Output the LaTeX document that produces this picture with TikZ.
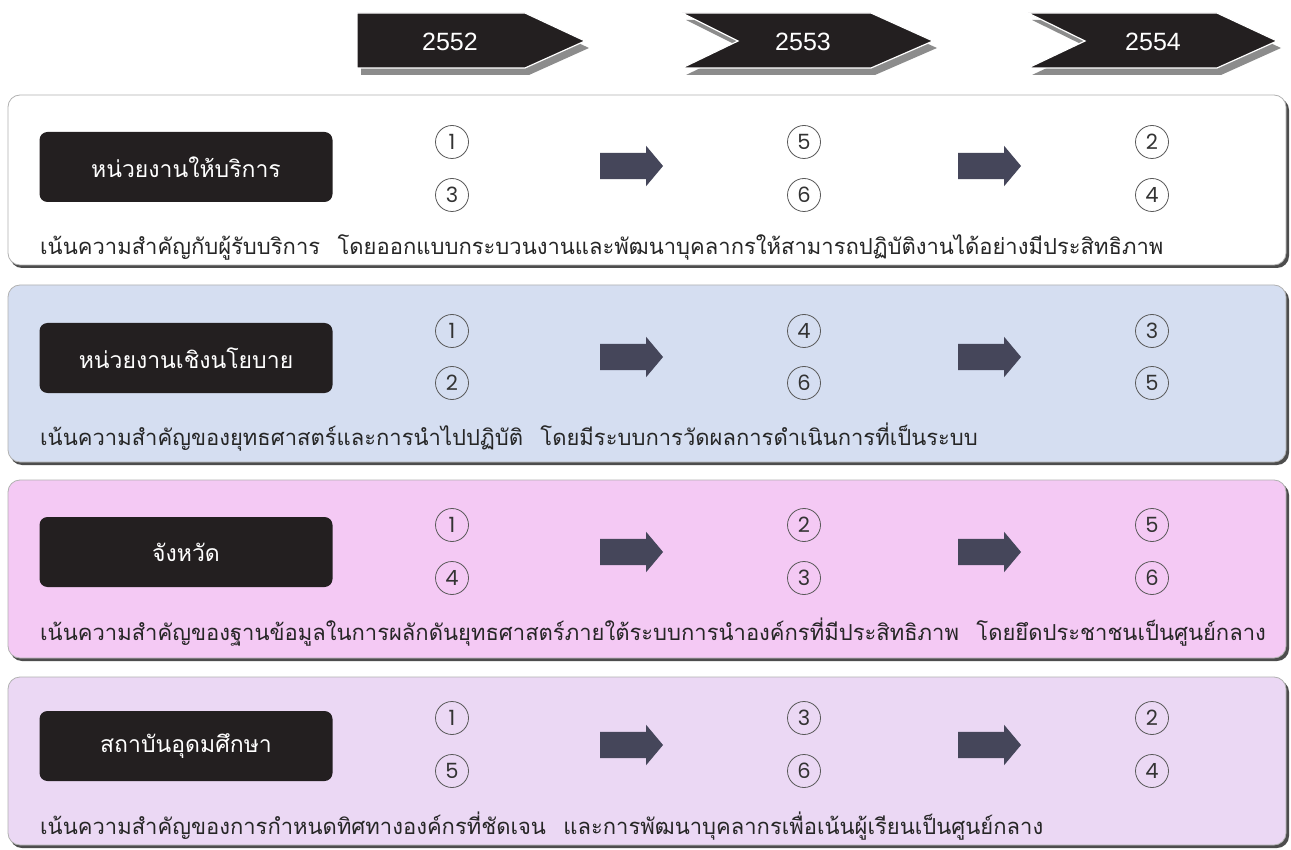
\documentclass[tikz,border=0pt]{standalone}
\usepackage{fontspec}
\newfontfamily\thaifont[Script=Thai]{Loma}
\newfontfamily\numfont{Poppins}
\newfontfamily\yearfont{Liberation Sans}
\usetikzlibrary{shapes.arrows}
\definecolor{boxblack}{HTML}{231F20}
\definecolor{arrowgrey}{HTML}{45465A}
\definecolor{rowblue}{HTML}{D5DEF1}
\definecolor{rowpink}{HTML}{F4C9F4}
\definecolor{rowlilac}{HTML}{EBD8F4}
\definecolor{edgegrey}{HTML}{4D4D4D}

\begin{document}
\begin{tikzpicture}[x=1pt,y=-1pt,
	unitbox/.style={fill=boxblack, rounded corners=8pt, minimum width=293pt, minimum height=70pt, inner sep=0pt, text=white, font=\thaifont\fontsize{23}{27}\selectfont},
	stepnum/.style={circle, draw=black!65, line width=0.8pt, minimum size=33pt, inner sep=0pt, text=black!80, font=\numfont\fontsize{21}{22}\selectfont},
	movearrow/.style={single arrow, fill=arrowgrey, minimum height=63pt, inner xsep=0pt, inner ysep=13pt, single arrow head extend=7pt, single arrow tip angle=100},
	focus/.style={anchor=west, inner sep=0pt, text=black!85, font=\thaifont\fontsize{22}{26}\selectfont},
	year/.style={text=white, font=\yearfont\fontsize{25}{28}\selectfont},
	panel/.style={rounded corners=12pt, draw=black!30, line width=0.8pt},
	panelshade/.style={rounded corners=12pt, fill=edgegrey}]
	\useasboundingbox[fill=white] (0,0) rectangle (1291,850);
	
	% years
	\fill[black!45, shift={(4,7)}] (357,13) -- (525,13) -- (585,41) -- (525,68) -- (357,68) -- cycle;
	\filldraw[boxblack, draw=white, line width=1.2pt] (357,13) -- (525,13) -- (585,41) -- (525,68) -- (357,68) -- cycle;
	\node[year] (y2552) at (450,42) {2552};
	
	\fill[black!45, shift={(4,7)}] (682,13) -- (871,13) -- (933,41) -- (871,68) -- (682,68) -- (738,41) -- cycle;
	\filldraw[boxblack, draw=white, line width=1.2pt] (682,13) -- (871,13) -- (933,41) -- (871,68) -- (682,68) -- (738,41) -- cycle;
	\node[year] (y2553) at (803,42) {2553};
	
	\fill[black!45, shift={(4,7)}] (1028,13) -- (1217,13) -- (1277,41) -- (1217,68) -- (1028,68) -- (1085,41) -- cycle;
	\filldraw[boxblack, draw=white, line width=1.2pt] (1028,13) -- (1217,13) -- (1277,41) -- (1217,68) -- (1028,68) -- (1085,41) -- cycle;
	\node[year] (y2554) at (1153,42) {2554};
	
	% panels
	\fill[panelshade] (10,98) rectangle (1289,268);
	\filldraw[panel, fill=white] (8,95) rectangle (1286,265);
	\fill[panelshade] (10,288) rectangle (1289,465);
	\filldraw[panel, fill=rowblue] (8,285) rectangle (1286,462);
	\fill[panelshade] (10,483) rectangle (1289,661);
	\filldraw[panel, fill=rowpink] (8,480) rectangle (1286,658);
	\fill[panelshade] (10,680) rectangle (1289,848);
	\filldraw[panel, fill=rowlilac] (8,677) rectangle (1286,845);
	
	% row 1
	\node[unitbox] (unit1) at (186,167) {หน่วยงานให้บริการ};
	\node[stepnum] (s1a) at (452,142) {1};
	\node[stepnum] (s1b) at (452,195) {3};
	\node[movearrow] (m1a) at (626,166) {};
	\node[stepnum] (s1c) at (804,142) {5};
	\node[stepnum] (s1d) at (804,195) {6};
	\node[movearrow] (m1b) at (984,166) {};
	\node[stepnum] (s1e) at (1152,142) {2};
	\node[stepnum] (s1f) at (1152,195) {4};
	\node[focus] (focus1) at (40,247) {เน้นความสำคัญกับผู้รับบริการ\hspace{10pt} โดยออกแบบกระบวนงานและพัฒนาบุคลากรให้สามารถปฏิบัติงานได้อย่างมีประสิทธิภาพ};
	
	% row 2
	\node[unitbox] (unit2) at (186,358) {หน่วยงานเชิงนโยบาย};
	\node[stepnum] (s2a) at (452,331) {1};
	\node[stepnum] (s2b) at (452,383) {2};
	\node[movearrow] (m2a) at (626,357) {};
	\node[stepnum] (s2c) at (804,331) {4};
	\node[stepnum] (s2d) at (804,383) {6};
	\node[movearrow] (m2b) at (984,357) {};
	\node[stepnum] (s2e) at (1152,331) {3};
	\node[stepnum] (s2f) at (1152,383) {5};
	\node[focus] (focus2) at (40,437) {เน้นความสำคัญของยุทธศาสตร์และการนำไปปฏิบัติ\hspace{10pt} โดยมีระบบการวัดผลการดำเนินการที่เป็นระบบ};
	
	% row 3
	\node[unitbox] (unit3) at (186,552) {จังหวัด};
	\node[stepnum] (s3a) at (452,525) {1};
	\node[stepnum] (s3b) at (452,578) {4};
	\node[movearrow] (m3a) at (626,552) {};
	\node[stepnum] (s3c) at (804,525) {2};
	\node[stepnum] (s3d) at (804,578) {3};
	\node[movearrow] (m3b) at (984,552) {};
	\node[stepnum] (s3e) at (1152,525) {5};
	\node[stepnum] (s3f) at (1152,578) {6};
	\node[focus] (focus3) at (40,632) {เน้นความสำคัญของฐานข้อมูลในการผลักดันยุทธศาสตร์ภายใต้ระบบการนำองค์กรที่มีประสิทธิภาพ\hspace{10pt} โดยยึดประชาชนเป็นศูนย์กลาง};
	
	% row 4
	\node[unitbox] (unit4) at (186,746) {สถาบันอุดมศึกษา};
	\node[stepnum] (s4a) at (452,718) {1};
	\node[stepnum] (s4b) at (452,771) {5};
	\node[movearrow] (m4a) at (626,745) {};
	\node[stepnum] (s4c) at (804,718) {3};
	\node[stepnum] (s4d) at (804,771) {6};
	\node[movearrow] (m4b) at (984,745) {};
	\node[stepnum] (s4e) at (1152,718) {2};
	\node[stepnum] (s4f) at (1152,771) {4};
	\node[focus] (focus4) at (40,826) {เน้นความสำคัญของการกำหนดทิศทางองค์กรที่ชัดเจน\hspace{10pt} และการพัฒนาบุคลากรเพื่อเน้นผู้เรียนเป็นศูนย์กลาง};
\end{tikzpicture}
\end{document}
